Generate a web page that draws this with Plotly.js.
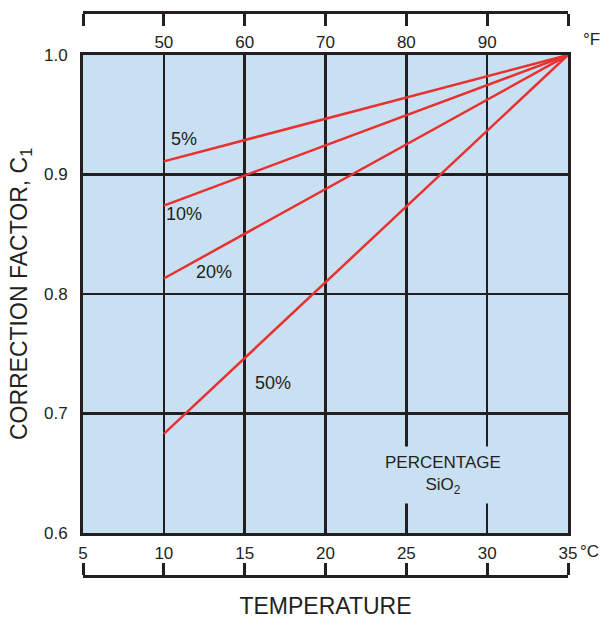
<!DOCTYPE html>
<html><head><meta charset="utf-8">
<script src="https://cdn.plot.ly/plotly-3.0.1.min.js"></script>
<style>html,body{margin:0;padding:0;background:#fff}</style>
</head><body><div id="chart" style="width:603px;height:622px"></div>
<script>
// Temperature (°C) endpoints of each correction line
const tempC = [10, 35];
const series = ["5%", "10%", "20%", "50%"];
const c5 = [0.911, 1.0];
const c10 = [0.874, 1.0];
const c20 = [0.813, 1.0];
const c50 = [0.683, 1.0];
const values = [c5, c10, c20, c50];
// label positions (data coords)
const labelX = [11.25, 11.25, 13.1, 16.75];
const labelY = [0.930, 0.867, 0.818, 0.7255];
// axis ticks
const cTicks = [5, 10, 15, 20, 25, 30, 35];
const cTickText = ["5", "10", "15", "20", "25", "30", "35"];
const fTicks = [10, 15, 20, 25, 30];
const fTickText = ["50", "60", "70", "80", "90"];
const yTicks = [0.6, 0.7, 0.8, 0.9, 1.0];

const ink = '#231f20';
const red = '#e8312f';
const bg = '#c9e0f2';
const FONT = 'Liberation Sans, Arial, sans-serif';

const traces = values.map((v, i) => ({
  x: tempC, y: v, type: 'scatter', mode: 'lines', name: series[i],
  line: {color: red, width: 2.5}, hoverinfo: 'skip', showlegend: false
}));
// empty helper traces so the extra axes are drawn
['x2', 'x3', 'x4'].forEach(ax => traces.push({
  x: [], y: [], xaxis: ax, yaxis: 'y', type: 'scatter', mode: 'lines',
  showlegend: false, hoverinfo: 'skip'
}));

const ann = series.map((s, i) => ({
  x: labelX[i], y: labelY[i], xref: 'x', yref: 'y', text: s, showarrow: false,
  font: {family: FONT, size: 18, color: ink}
}));
ann.push({
  x: 27.27, y: 0.6485, xref: 'x', yref: 'y', text: 'PERCENTAGE<br>SiO<sub>2</sub>',
  showarrow: false, bgcolor: bg, borderpad: 6, font: {family: FONT, size: 17, color: ink}
});

const L = 83, R = 35, T = 12, B = 46, W = 603, H = 622;
const pw = W - L - R, ph = H - T - B;
// unit labels placed in pixel positions converted to paper coords
[['°C', 589, 551], ['°F', 591, 40]].forEach(([t, px, py]) => ann.push({
  x: (px - L) / pw, y: (H - B - py) / ph, xref: 'paper', yref: 'paper', text: t,
  xanchor: 'center', yanchor: 'middle', showarrow: false,
  font: {family: FONT, size: 17, color: ink}
}));

const yTop = (H - B - 55) / ph, yBot = (H - B - 533) / ph;

const layout = {
  width: W, height: H,
  margin: {l: L, r: R, t: T, b: B},
  paper_bgcolor: '#fff', plot_bgcolor: bg,
  font: {family: FONT, color: ink, size: 17},
  showlegend: false,
  xaxis: {
    range: [5, 35], domain: [0, 1], tickmode: 'array', tickvals: cTicks, ticktext: cTickText,
    showgrid: true, gridcolor: ink, gridwidth: 2.5, zeroline: false,
    showline: true, linecolor: ink, linewidth: 3, mirror: true,
    ticks: '', ticklabelstandoff: 3, tickfont: {size: 17, color: ink}, automargin: false,
    title: {text: 'TEMPERATURE', font: {size: 23, color: ink}, standoff: 36}
  },
  xaxis2: {
    overlaying: 'x', anchor: 'y', side: 'top', range: [5, 35],
    tickmode: 'array', tickvals: fTicks, ticktext: fTickText,
    showgrid: false, zeroline: false, showline: false, ticks: '',
    ticklabelstandoff: 3, tickfont: {size: 17, color: ink}, automargin: false
  },
  xaxis3: {
    overlaying: 'x', anchor: 'free', position: 0, side: 'top', range: [5, 35],
    tickmode: 'array', tickvals: cTicks, showticklabels: false,
    showgrid: false, zeroline: false, showline: true, linecolor: ink, linewidth: 3,
    ticks: 'outside', ticklen: 12, tickwidth: 3, tickcolor: ink, automargin: false
  },
  xaxis4: {
    overlaying: 'x', anchor: 'free', position: 1, side: 'bottom', range: [5, 35],
    tickmode: 'array', tickvals: cTicks, showticklabels: false,
    showgrid: false, zeroline: false, showline: true, linecolor: ink, linewidth: 3,
    ticks: 'outside', ticklen: 12, tickwidth: 3, tickcolor: ink, automargin: false
  },
  yaxis: {
    range: [0.6, 1.0], domain: [yBot, yTop], tickmode: 'array', tickvals: yTicks, tickformat: '.1f',
    showgrid: true, gridcolor: ink, gridwidth: 2.5, zeroline: false,
    showline: true, linecolor: ink, linewidth: 3, mirror: true,
    ticks: '', ticklabelstandoff: 9, tickfont: {size: 17, color: ink},
    title: {text: 'CORRECTION FACTOR, C<sub>1</sub>', font: {size: 23, color: ink}, standoff: 10},
    automargin: false
  },
  annotations: ann
};

Plotly.newPlot('chart', traces, layout, {displayModeBar: false, staticPlot: true});
</script></body></html>
